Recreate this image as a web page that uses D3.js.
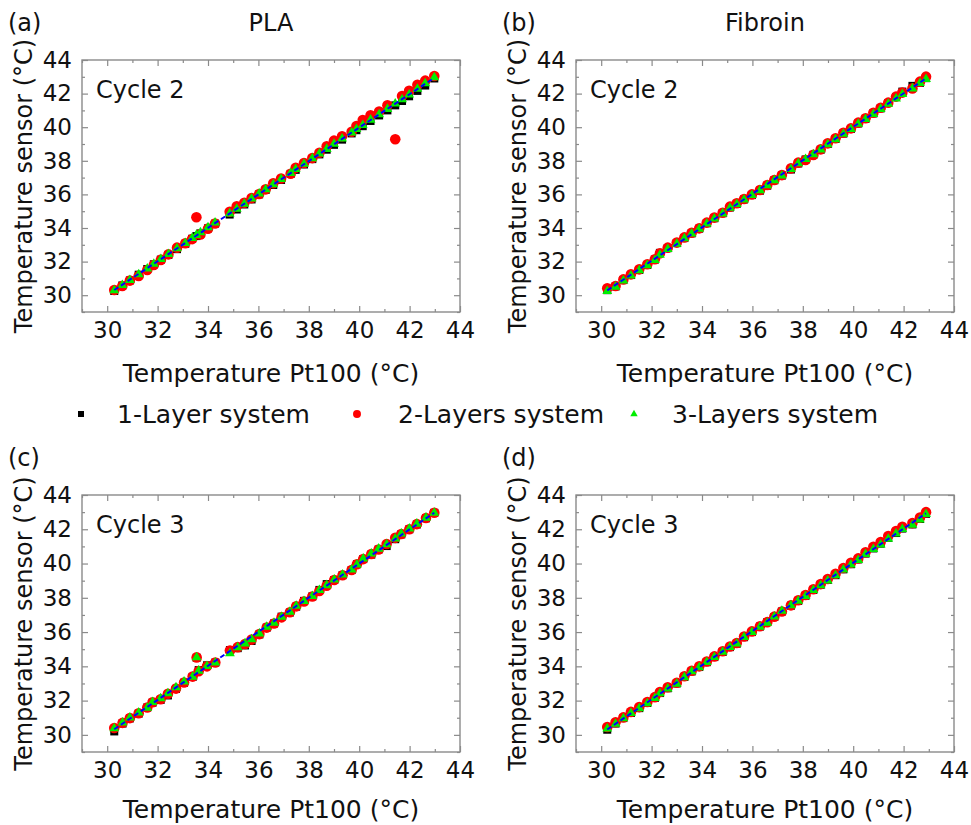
<!DOCTYPE html>
<html>
<head>
<meta charset="utf-8">
<script src="https://cdn.jsdelivr.net/npm/d3@7"></script>
<style>
  body { margin: 0; background: #fff; }
  svg text { font-family: "DejaVu Sans", Verdana, sans-serif; fill: #111; }
</style>
</head>
<body>
<svg id="chart" width="971" height="825"></svg>
<script>
// ---- data: Pt100 reading (x) vs sensor reading (y), one x list per panel ----
var seriesNames = ["1-Layer system", "2-Layers system", "3-Layers system"];

// (a) PLA, cycle 2
var xPlaC2 = [30.28, 30.60, 30.90, 31.25, 31.59, 31.85, 32.13, 32.43, 32.77, 33.10, 33.37, 33.54, 33.70, 34.00, 34.28,
  34.86, 35.14, 35.44, 35.73, 36.03, 36.29, 36.59, 36.90, 37.28, 37.48, 37.81, 38.14, 38.42, 38.71, 39.00,
  39.32, 39.70, 39.89, 40.14, 40.45, 40.79, 41.12, 41.43, 41.70, 41.98, 42.31, 42.62, 42.98];
var yPlaC2_1 = [30.25, 30.58, 30.88, 31.22, 31.56, 31.84, 32.12, 32.40, 32.74, 33.06, 33.36, 33.52, 33.68, 33.98, 34.26,
  34.80, 35.10, 35.40, 35.70, 36.00, 36.27, 36.56, 36.86, 37.22, 37.46, 37.78, 38.10, 38.38, 38.66, 38.95,
  39.26, 39.63, 39.82, 40.06, 40.37, 40.70, 41.00, 41.30, 41.56, 41.84, 42.16, 42.48, 42.90];
var yPlaC2_2 = [30.31, 30.55, 30.87, 31.15, 31.50, 31.80, 32.10, 32.43, 32.83, 33.09, 33.34, 34.64, 33.62, 33.96, 34.27,
  34.97, 35.29, 35.50, 35.78, 36.02, 36.30, 36.66, 36.95, 37.23, 37.59, 37.87, 38.16, 38.48, 38.86, 39.20,
  39.46, 39.73, 40.07, 40.43, 40.71, 40.93, 41.30, 39.28, 41.86, 42.17, 42.53, 42.77, 43.05];
var yPlaC2_3 = [30.28, 30.60, 30.90, 31.24, 31.58, 31.86, 32.14, 32.44, 32.78, 33.10, 33.40, 33.58, 33.74, 34.04, 34.32,
  34.86, 35.14, 35.44, 35.74, 36.04, 36.30, 36.60, 36.90, 37.26, 37.50, 37.82, 38.14, 38.42, 38.70, 39.00,
  39.32, 39.68, 39.88, 40.12, 40.44, 40.76, 41.08, 41.40, 41.66, 41.94, 42.28, 42.60, 42.96];

// (b) Fibroin, cycle 2
var xFibC2 = [30.24, 30.57, 30.88, 31.18, 31.51, 31.83, 32.13, 32.33, 32.64, 33.00, 33.30, 33.59, 33.89, 34.19, 34.49,
  34.82, 35.11, 35.38, 35.67, 35.98, 36.30, 36.59, 36.87, 37.17, 37.53, 37.82, 38.11, 38.42, 38.71, 38.99,
  39.30, 39.61, 39.91, 40.20, 40.49, 40.80, 41.09, 41.39, 41.70, 41.95, 42.35, 42.65, 42.89];
var yFibC2_1 = [30.30, 30.52, 30.90, 31.20, 31.50, 31.80, 32.12, 32.52, 32.80, 33.10, 33.40, 33.68, 33.96, 34.28, 34.58,
  34.88, 35.22, 35.44, 35.70, 35.96, 36.22, 36.52, 36.84, 37.12, 37.48, 37.84, 38.08, 38.36, 38.66, 39.00,
  39.30, 39.62, 39.90, 40.22, 40.50, 40.82, 41.12, 41.44, 41.80, 42.12, 42.46, 42.64, 42.92];
var yFibC2_2 = [30.41, 30.55, 30.94, 31.24, 31.54, 31.84, 32.14, 32.49, 32.83, 33.13, 33.44, 33.72, 33.98, 34.32, 34.62,
  34.91, 35.27, 35.47, 35.73, 36.00, 36.26, 36.56, 36.86, 37.15, 37.55, 37.89, 38.05, 38.35, 38.68, 39.04,
  39.34, 39.67, 39.93, 40.27, 40.53, 40.86, 41.16, 41.46, 41.82, 42.06, 42.31, 42.71, 43.01];
var yFibC2_3 = [30.24, 30.50, 30.86, 31.16, 31.48, 31.78, 32.08, 32.40, 32.74, 33.06, 33.38, 33.66, 33.94, 34.26, 34.56,
  34.86, 35.20, 35.42, 35.68, 35.96, 36.24, 36.54, 36.84, 37.12, 37.50, 37.84, 38.10, 38.38, 38.66, 38.98,
  39.28, 39.60, 39.88, 40.20, 40.48, 40.78, 41.08, 41.38, 41.70, 41.96, 42.30, 42.62, 42.86];

// (c) PLA, cycle 3
var xPlaC3 = [30.28, 30.61, 30.90, 31.25, 31.59, 31.80, 32.12, 32.41, 32.73, 33.05, 33.39, 33.55, 33.63, 33.96, 34.29,
  34.87, 35.18, 35.47, 35.73, 36.04, 36.33, 36.62, 36.92, 37.25, 37.50, 37.81, 38.14, 38.42, 38.71, 39.01,
  39.34, 39.70, 39.91, 40.16, 40.48, 40.77, 41.09, 41.43, 41.67, 41.99, 42.29, 42.65, 42.98];
var yPlaC3_1 = [30.20, 30.66, 30.96, 31.24, 31.60, 31.88, 32.04, 32.30, 32.68, 33.04, 33.38, 34.50, 33.78, 34.06, 34.22,
  34.95, 35.06, 35.22, 35.48, 35.86, 36.26, 36.50, 36.90, 37.14, 37.48, 37.82, 38.08, 38.46, 38.80, 39.04,
  39.32, 39.62, 39.96, 40.26, 40.52, 40.82, 41.02, 41.42, 41.70, 42.00, 42.28, 42.64, 42.96];
var yPlaC3_2 = [30.40, 30.70, 30.98, 31.26, 31.60, 31.90, 32.08, 32.40, 32.70, 33.06, 33.40, 34.52, 33.72, 34.00, 34.22,
  34.92, 35.12, 35.30, 35.56, 35.88, 36.26, 36.50, 36.86, 37.16, 37.50, 37.78, 38.08, 38.40, 38.70, 39.04,
  39.32, 39.62, 39.96, 40.26, 40.56, 40.82, 41.14, 41.50, 41.72, 42.00, 42.30, 42.66, 42.96];
var yPlaC3_3 = [30.38, 30.71, 31.00, 31.29, 31.58, 31.91, 32.13, 32.42, 32.77, 33.10, 33.39, 34.52, 33.74, 34.01, 34.21,
  34.75, 35.10, 35.33, 35.57, 35.91, 36.30, 36.54, 36.88, 37.18, 37.53, 37.80, 38.09, 38.44, 38.73, 39.06,
  39.35, 39.64, 39.93, 40.28, 40.57, 40.86, 41.12, 41.45, 41.74, 42.03, 42.32, 42.67, 42.96];

// (d) Fibroin, cycle 3
var xFibC3 = [30.24, 30.57, 30.88, 31.18, 31.51, 31.83, 32.13, 32.33, 32.64, 33.00, 33.30, 33.59, 33.89, 34.19, 34.49,
  34.82, 35.11, 35.38, 35.67, 35.98, 36.30, 36.59, 36.87, 37.17, 37.53, 37.82, 38.11, 38.42, 38.71, 38.99,
  39.30, 39.61, 39.91, 40.20, 40.49, 40.80, 41.09, 41.39, 41.70, 41.95, 42.35, 42.65, 42.89];
var yFibC3_1 = [30.30, 30.66, 30.98, 31.28, 31.56, 31.86, 32.16, 32.44, 32.72, 33.00, 33.38, 33.70, 33.96, 34.24, 34.54,
  34.84, 35.12, 35.32, 35.70, 36.00, 36.32, 36.58, 36.88, 37.20, 37.54, 37.82, 38.12, 38.46, 38.76, 39.04,
  39.32, 39.66, 39.96, 40.24, 40.58, 40.88, 41.16, 41.50, 41.78, 42.04, 42.28, 42.60, 42.90];
var yFibC3_2 = [30.46, 30.74, 31.02, 31.34, 31.62, 31.92, 32.20, 32.50, 32.78, 33.04, 33.42, 33.74, 34.00, 34.28, 34.58,
  34.88, 35.16, 35.36, 35.74, 36.04, 36.34, 36.58, 36.90, 37.20, 37.56, 37.86, 38.16, 38.50, 38.80, 39.10,
  39.40, 39.74, 40.04, 40.30, 40.66, 40.98, 41.26, 41.60, 41.90, 42.14, 42.36, 42.68, 43.00];
var yFibC3_3 = [30.36, 30.64, 30.96, 31.26, 31.54, 31.84, 32.14, 32.42, 32.70, 32.98, 33.36, 33.70, 33.94, 34.24, 34.54,
  34.84, 35.12, 35.32, 35.70, 36.00, 36.30, 36.54, 36.90, 37.24, 37.56, 37.82, 38.10, 38.44, 38.72, 39.00,
  39.30, 39.64, 39.94, 40.20, 40.54, 40.84, 41.10, 41.44, 41.74, 42.00, 42.26, 42.56, 42.88];

var majorTicks = [30, 32, 34, 36, 38, 40, 42, 44];
var minorTicks = [29, 31, 33, 35, 37, 39, 41, 43];
var axisDomain = [29, 44];

// ---- layout ----
var svg = d3.select("#chart");
var frameColor = "#8a8a8a";
var colors = ["#000000", "#ff0000", "#00ee00"];

var panels = [
  { tag: "(a)", cycle: "Cycle 2", x: xPlaC2, ys: [yPlaC2_1, yPlaC2_2, yPlaC2_3], left: 82, top: 60, w: 378, h: 252, tb: 70 },
  { tag: "(b)", cycle: "Cycle 2", x: xFibC2, ys: [yFibC2_1, yFibC2_2, yFibC2_3], left: 576, top: 60, w: 378, h: 252, tb: 70 },
  { tag: "(c)", cycle: "Cycle 3", x: xPlaC3, ys: [yPlaC3_1, yPlaC3_2, yPlaC3_3], left: 82, top: 495, w: 378, h: 257, tb: 66 },
  { tag: "(d)", cycle: "Cycle 3", x: xFibC3, ys: [yFibC3_1, yFibC3_2, yFibC3_3], left: 576, top: 495, w: 378, h: 257, tb: 66 }
];

// column headers
svg.append("text").attr("x", 271).attr("y", 31).attr("text-anchor", "middle")
  .style("font-size", "24px").text("PLA");
svg.append("text").attr("x", 765).attr("y", 31).attr("text-anchor", "middle")
  .style("font-size", "24px").text("Fibroin");

function marker(g, k, px, py, scale) {
  scale = scale || 1;
  if (k === 0) {
    var s = 8 * scale;
    g.append("rect").attr("x", px - s / 2).attr("y", py - s / 2)
      .attr("width", s).attr("height", s).attr("fill", colors[0]);
  } else if (k === 1) {
    g.append("circle").attr("cx", px).attr("cy", py).attr("r", 5.3 * scale).attr("fill", colors[1]);
  } else {
    g.append("path").attr("d", d3.symbol(d3.symbolTriangle, 42 * scale * scale)())
      .attr("transform", "translate(" + px + "," + py + ")").attr("fill", colors[2]);
  }
}

panels.forEach(function (p) {
  var x = d3.scaleLinear().domain(axisDomain).range([0, p.w]);
  var y = d3.scaleLinear().domain(axisDomain).range([p.h, 0]);

  var g = svg.append("g").attr("transform", "translate(" + p.left + "," + p.top + ")");

  // panel tag
  svg.append("text").attr("x", p.left - 74).attr("y", p.top - 29)
    .style("font-size", "24px").text(p.tag);

  // axes: major ticks with labels, minor ticks, plus bare top/right
  function styleAxis(sel) {
    sel.select(".domain").remove();
    sel.selectAll(".tick line").attr("stroke", frameColor).attr("stroke-width", 1.2);
    sel.selectAll(".tick text").style("font-size", "23px").attr("fill", "#111");
  }
  g.append("g").attr("transform", "translate(0," + p.h + ")")
    .call(d3.axisBottom(x).tickValues(majorTicks).tickSizeInner(-6).tickSizeOuter(0).tickPadding(10))
    .call(styleAxis);
  g.append("g").attr("transform", "translate(0," + p.h + ")")
    .call(d3.axisBottom(x).tickValues(minorTicks).tickSizeInner(-3).tickSizeOuter(0).tickFormat(""))
    .call(styleAxis);
  g.append("g")
    .call(d3.axisLeft(y).tickValues(majorTicks).tickSizeInner(-6).tickSizeOuter(0).tickPadding(10))
    .call(styleAxis);
  g.append("g")
    .call(d3.axisLeft(y).tickValues(minorTicks).tickSizeInner(-3).tickSizeOuter(0).tickFormat(""))
    .call(styleAxis);
  g.append("g")
    .call(d3.axisTop(x).tickValues(majorTicks).tickSizeInner(-6).tickSizeOuter(0).tickFormat(""))
    .call(styleAxis);
  g.append("g")
    .call(d3.axisTop(x).tickValues(minorTicks).tickSizeInner(-3).tickSizeOuter(0).tickFormat(""))
    .call(styleAxis);
  g.append("g").attr("transform", "translate(" + p.w + ",0)")
    .call(d3.axisRight(y).tickValues(majorTicks).tickSizeInner(-6).tickSizeOuter(0).tickFormat(""))
    .call(styleAxis);
  g.append("g").attr("transform", "translate(" + p.w + ",0)")
    .call(d3.axisRight(y).tickValues(minorTicks).tickSizeInner(-3).tickSizeOuter(0).tickFormat(""))
    .call(styleAxis);

  g.append("rect").attr("width", p.w).attr("height", p.h)
    .attr("fill", "none").attr("stroke", frameColor).attr("stroke-width", 1.4);

  // axis titles
  g.append("text").attr("x", p.w / 2).attr("y", p.h + p.tb).attr("text-anchor", "middle")
    .style("font-size", "25px").text("Temperature Pt100 (°C)");
  g.append("text").attr("transform", "translate(-50," + (p.h / 2) + ") rotate(-90)")
    .attr("text-anchor", "middle").style("font-size", "24px").text("Temperature sensor (°C)");

  g.append("text").attr("x", 14).attr("y", 38).style("font-size", "24px").text(p.cycle);

  // points
  var pts = g.append("g");
  p.ys.forEach(function (ys, k) {
    ys.forEach(function (v, i) { marker(pts, k, x(p.x[i]), y(v)); });
  });

  // least-squares fit through all three series, drawn dashed
  var all = [];
  p.ys.forEach(function (ys) { ys.forEach(function (v, i) { all.push([p.x[i], v]); }); });
  var mx = d3.mean(all, function (d) { return d[0]; });
  var my = d3.mean(all, function (d) { return d[1]; });
  var sxy = d3.sum(all, function (d) { return (d[0] - mx) * (d[1] - my); });
  var sxx = d3.sum(all, function (d) { return (d[0] - mx) * (d[0] - mx); });
  var slope = sxy / sxx, icpt = my - slope * mx;
  var ext = d3.extent(p.x);
  g.append("path")
    .datum(ext.map(function (v) { return [v, slope * v + icpt]; }))
    .attr("d", d3.line().x(function (d) { return x(d[0]); }).y(function (d) { return y(d[1]); }))
    .attr("stroke", "#0000ff").attr("stroke-width", 2).attr("stroke-dasharray", "5,3")
    .attr("fill", "none");
});

// legend between the rows
var legendMarkX = [81, 357, 634];
var legendTextX = [117, 398, 672];
var leg = svg.append("g");
seriesNames.forEach(function (name, k) {
  marker(leg, k, legendMarkX[k], 414, 0.75);
  leg.append("text").attr("x", legendTextX[k]).attr("y", 423)
    .style("font-size", "25px").text(name);
});
</script>
</body>
</html>
